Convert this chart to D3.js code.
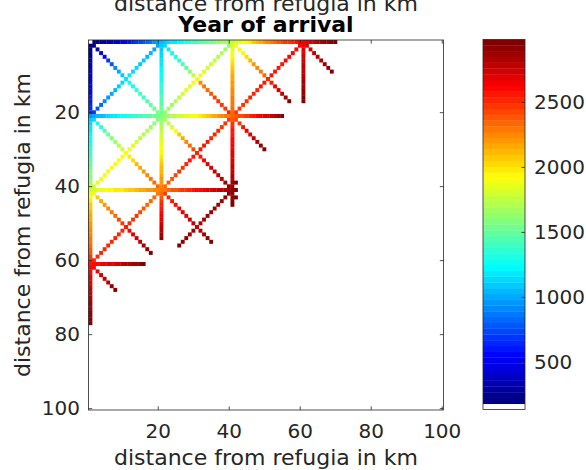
<!DOCTYPE html>
<html>
<head>
<meta charset="utf-8">
<script src="https://cdn.jsdelivr.net/npm/d3@7"></script>
<style>
  body { margin: 0; background: #fff; }
  svg { display: block; font-family: 'DejaVu Sans', sans-serif; }
</style>
</head>
<body>
<div id="chart"></div>
<script>
// grid and axis values
const gridSize = 100;
const xTicks = [20, 40, 60, 80, 100];
const yTicks = [20, 40, 60, 80, 100];
const colorTicks = [500, 1000, 1500, 2000, 2500];
const colorRange = [134, 2980];
const titleText = 'Year of arrival';
const axisLabel = 'distance from refugia in km';

// year of arrival along each corridor, one value per cell
const row1 = [140, 220, 260, 300, 330, 360, 400, 430, 470, 500, 540, 580, 640, 700, 740, 790, 830, 880, 940, 990,
  1050, 1090, 1130, 1160, 1200, 1240, 1270, 1310, 1340, 1380, 1410, 1450, 1480, 1520, 1550, 1590, 1620, 1660, 1690, 1730,
  1760, 1810, 1850, 1900, 1950, 2000, 2050, 2100, 2150, 2200, 2240, 2290, 2330, 2380, 2420, 2460, 2490, 2530, 2560, 2600,
  2640, 2670, 2710, 2740, 2780, 2820, 2850, 2890, 2920, 2960];
const col1 = [140, 220, 250, 280, 310, 340, 360, 390, 420, 450, 470, 490, 520, 540, 560, 580, 600, 630, 650, 700,
  950, 1100, 1130, 1160, 1190, 1220, 1260, 1290, 1320, 1350, 1380, 1420, 1450, 1490, 1520, 1560, 1600, 1640, 1670, 1710,
  1750, 1830, 1900, 1980, 2050, 2080, 2110, 2140, 2170, 2200, 2220, 2240, 2260, 2280, 2300, 2330, 2370, 2400, 2450, 2500,
  2550, 2580, 2620, 2650, 2680, 2710, 2740, 2770, 2790, 2820, 2840, 2860, 2880, 2910, 2930, 2950, 2970];
const row21 = [950, 990, 1030, 1060, 1100, 1130, 1160, 1190, 1220, 1250, 1280, 1310, 1340, 1370, 1400, 1430, 1460, 1490, 1520, 1550,
  1580, 1620, 1670, 1710, 1750, 1780, 1810, 1840, 1870, 1900, 1940, 1980, 2020, 2060, 2100, 2140, 2180, 2230, 2270, 2310,
  2350, 2380, 2410, 2440, 2470, 2510, 2550, 2590, 2630, 2670, 2710, 2760, 2810, 2860, 2910];
const col21 = [1050, 1080, 1100, 1130, 1150, 1170, 1190, 1210, 1230, 1250, 1280, 1310, 1340, 1370, 1400, 1430, 1460, 1490, 1520, 1550,
  1580, 1620, 1670, 1710, 1750, 1780, 1810, 1840, 1870, 1900, 1940, 1980, 2020, 2060, 2100, 2130, 2160, 2190, 2220, 2250,
  2280, 2340, 2390, 2450, 2500, 2550, 2600, 2650, 2700, 2750, 2790, 2830, 2860, 2900];
const row41 = [1750, 1790, 1830, 1860, 1900, 1920, 1940, 1960, 1980, 2000, 2030, 2060, 2090, 2120, 2150, 2170, 2190, 2220, 2240, 2260,
  2280, 2310, 2340, 2370, 2400, 2430, 2460, 2490, 2520, 2550, 2580, 2610, 2640, 2670, 2700, 2730, 2770, 2800, 2830, 2870,
  2900, 2950];
const col41 = [1760, 1810, 1860, 1900, 1950, 1990, 2030, 2070, 2110, 2150, 2170, 2190, 2210, 2230, 2250, 2270, 2280, 2300, 2320, 2330,
  2350, 2400, 2450, 2500, 2550, 2570, 2590, 2610, 2630, 2650, 2680, 2700, 2730, 2750, 2780, 2800, 2820, 2840, 2860, 2880,
  2900, 2920, 2930, 2950, 2960];
const row61 = [2550, 2580, 2600, 2630, 2650, 2680, 2700, 2730, 2750, 2780, 2810, 2840, 2870, 2890, 2920, 2950];
const col61 = [2640, 2660, 2680, 2700, 2720, 2740, 2760, 2780, 2800, 2820, 2840, 2860, 2880, 2900, 2920, 2940, 2960];

// diagonal corridors inside the 20 km blocks
const diagA1 = [250, 350, 450, 550, 670, 780, 900, 1000, 1100, 1200, 1250, 1290, 1340, 1380, 1420, 1460, 1500, 1530, 1560];
const diagA2 = [700, 780, 840, 900, 950, 1000, 1050, 1100, 1150, 1200, 1170, 1150, 1120, 1100, 1070, 1050, 1030, 1020, 1000];
const diagB1 = [1150, 1200, 1250, 1300, 1370, 1430, 1500, 1630, 1770, 1900, 2250, 2300, 2350, 2400, 2420, 2450, 2470, 2490, 2500];
const diagB2 = [1620, 1650, 1690, 1720, 1760, 1790, 1830, 1860, 1880, 1900, 1870, 1850, 1820, 1790, 1760, 1730, 1700, 1670, 1640];
const diagC1 = [1900, 1920, 1950, 2030, 2100, 2180, 2250, 2300, 2350, 2500, 2550, 2650, 2720, 2800, 2880, 2950];
const diagC2 = [2450, 2460, 2470, 2490, 2500, 2520, 2530, 2550, 2550, 2500, 2550, 2550, 2550, 2570, 2580, 2600, 2610, 2610, 2620];
const diagD1 = [2680, 2720, 2760, 2800, 2840, 2880, 2920, 2960];
const diagE1 = [1150, 1250, 1350, 1450, 1520, 1580, 1650, 1730, 1820, 1900, 1970, 2030, 2100, 2150, 2200, 2250, 2280, 2320, 2350];
const diagE2 = [1800, 1830, 1870, 1900, 1920, 1930, 1950, 1930, 1920, 1900, 1870, 1830, 1800, 1770, 1730, 1700, 1670, 1630, 1600];
const diagF1 = [1650, 1750, 1850, 1950, 2050, 2150, 2240, 2330, 2410, 2500, 2570, 2630, 2700, 2730, 2770, 2800, 2830, 2870, 2900];
const diagF2 = [2330, 2370, 2400, 2430, 2450, 2480, 2520, 2550, 2550, 2500, 2550, 2550, 2550, 2530, 2520, 2500, 2480, 2470, 2450];
const diagG1 = [2420, 2490, 2560, 2630, 2700, 2770, 2840, 2900, 2960];
const diagH1 = [1950, 2050, 2150, 2200, 2250, 2300, 2350, 2420, 2480, 2550, 2620, 2680, 2750, 2800, 2850, 2900, 2950];
const diagH2 = [2500, 2500, 2500, 2500, 2500, 2510, 2510, 2520, 2530, 2550, 2520, 2480, 2450, 2420, 2380, 2350, 2330, 2320, 2300];
const diagI1 = [2450, 2500, 2550, 2600, 2630, 2670, 2700, 2730, 2770, 2800, 2840, 2880, 2910, 2950];
const diagI2 = [2950, 2930, 2910, 2890, 2860, 2800, 2830, 2850, 2860, 2870, 2870, 2880, 2890, 2900, 2900];
const diagJ1 = [2600, 2660, 2720, 2780, 2840, 2900, 2950];
const stubCells = [[39, 42, 2950], [43, 42, 2950]];

// corridor table: values, start row, start column, row step, column step
const segments = [
  [diagA1, 2, 2, 1, 1], [diagA2, 20, 2, -1, 1],
  [diagB1, 2, 22, 1, 1], [diagB2, 20, 22, -1, 1],
  [diagC1, 2, 42, 1, 1], [diagC2, 20, 42, -1, 1],
  [diagD1, 2, 62, 1, 1],
  [diagE1, 22, 2, 1, 1], [diagE2, 40, 2, -1, 1],
  [diagF1, 22, 22, 1, 1], [diagF2, 40, 22, -1, 1],
  [diagG1, 22, 42, 1, 1],
  [diagH1, 42, 2, 1, 1], [diagH2, 60, 2, -1, 1],
  [diagI1, 42, 22, 1, 1], [diagI2, 56, 26, -1, 1],
  [diagJ1, 62, 2, 1, 1],
  [row1, 1, 1, 0, 1], [col1, 1, 1, 1, 0],
  [row21, 21, 1, 0, 1], [col21, 1, 21, 1, 0],
  [row41, 41, 1, 0, 1], [col41, 1, 41, 1, 0],
  [row61, 61, 1, 0, 1], [col61, 1, 61, 1, 0]
];

// flatten to cells
const cells = [];
segments.forEach(([vals, r0, c0, dr, dc]) => {
  vals.forEach((v, i) => cells.push({ row: r0 + i * dr, col: c0 + i * dc, value: v }));
});
stubCells.forEach(([row, col, value]) => cells.push({ row, col, value }));

// jet colormap with white as lowest entry (64 levels)
function jet(t) {
  const c = v => Math.max(0, Math.min(1, v));
  const r = c(Math.min(4 * t - 1.5, -4 * t + 4.5));
  const g = c(Math.min(4 * t - 0.5, -4 * t + 3.5));
  const b = c(Math.min(4 * t + 0.5, -4 * t + 2.5));
  return d3.rgb(r * 255, g * 255, b * 255).formatHex();
}
const palette = ['#ffffff'].concat(d3.range(63).map(i => jet(i / 62)));
const color = d3.scaleQuantize().domain(colorRange).range(palette);

const width = 586;
const height = 470;
const ink = '#262626';

const svg = d3.select('#chart')
  .append('svg')
  .attr('width', width)
  .attr('height', height);

const x = d3.scaleLinear().domain([0.5, gridSize + 0.5]).range([88.5, 443.5]);
const y = d3.scaleLinear().domain([0.5, gridSize + 0.5]).range([40, 410]);

const cw = x(1.5) - x(0.5);
const ch = y(1.5) - y(0.5);

// cells
svg.append('g')
  .selectAll('rect')
  .data(cells)
  .enter()
  .append('rect')
  .attr('x', d => x(d.col - 0.5))
  .attr('y', d => y(d.row - 0.5))
  .attr('width', cw + 0.3)
  .attr('height', ch + 0.3)
  .attr('fill', d => color(d.value));

// axes (ticks pointing inward on all four sides)
function styleAxis(g, size) {
  g.select('.domain').remove();
  g.selectAll('.tick line').attr('stroke', ink).attr('stroke-width', 0.8);
  g.selectAll('.tick text')
    .attr('fill', ink)
    .style('font-family', "'DejaVu Sans', sans-serif")
    .style('font-size', size + 'px');
}

svg.append('g')
  .attr('transform', `translate(0, ${y.range()[1]})`)
  .call(d3.axisBottom(x).tickValues(xTicks).tickSize(-3.7).tickPadding(13.5))
  .call(g => styleAxis(g, 20));

svg.append('g')
  .attr('transform', `translate(0, ${y.range()[0]})`)
  .call(d3.axisTop(x).tickValues(xTicks).tickSize(-3.7).tickFormat(''))
  .call(g => styleAxis(g, 20));

svg.append('g')
  .attr('transform', `translate(${x.range()[0]}, 0)`)
  .call(d3.axisLeft(y).tickValues(yTicks).tickSize(-3.7).tickPadding(8.5))
  .call(g => styleAxis(g, 20));

svg.append('g')
  .attr('transform', `translate(${x.range()[1]}, 0)`)
  .call(d3.axisRight(y).tickValues(yTicks).tickSize(-3.7).tickFormat(''))
  .call(g => styleAxis(g, 20));

svg.append('rect')
  .attr('x', x.range()[0])
  .attr('y', y.range()[0])
  .attr('width', x.range()[1] - x.range()[0])
  .attr('height', y.range()[1] - y.range()[0])
  .attr('fill', 'none')
  .attr('stroke', ink)
  .attr('stroke-width', 0.8);

// labels
svg.append('text')
  .attr('x', 266)
  .attr('y', 465)
  .attr('text-anchor', 'middle')
  .attr('fill', ink)
  .style('font-size', '22px')
  .text(axisLabel);

svg.append('text')
  .attr('x', 266)
  .attr('y', 11)
  .attr('text-anchor', 'middle')
  .attr('fill', ink)
  .style('font-size', '22px')
  .text(axisLabel);

svg.append('text')
  .attr('transform', 'translate(30, 225) rotate(-90)')
  .attr('text-anchor', 'middle')
  .attr('fill', ink)
  .style('font-size', '22px')
  .text(axisLabel);

svg.append('text')
  .attr('x', 266)
  .attr('y', 32)
  .attr('text-anchor', 'middle')
  .attr('fill', '#000')
  .style('font-size', '22px')
  .style('font-weight', 'bold')
  .text(titleText);

// colorbar
const cbX = 483;
const cbW = 42;
const cy = d3.scaleLinear().domain(colorRange).range([409.5, 39.5]);
const step = (colorRange[1] - colorRange[0]) / palette.length;

svg.append('g')
  .selectAll('rect')
  .data(palette)
  .enter()
  .append('rect')
  .attr('x', cbX)
  .attr('y', (d, i) => cy(colorRange[0] + (i + 1) * step))
  .attr('width', cbW)
  .attr('height', cy(colorRange[0]) - cy(colorRange[0] + step) + 0.3)
  .attr('fill', d => d);

svg.append('g')
  .attr('transform', `translate(${cbX + cbW}, 0)`)
  .call(d3.axisRight(cy).tickValues(colorTicks).tickSize(-3.7).tickPadding(9).tickFormat(d3.format('d')))
  .call(g => styleAxis(g, 20));

svg.append('rect')
  .attr('x', cbX)
  .attr('y', cy.range()[1])
  .attr('width', cbW)
  .attr('height', cy.range()[0] - cy.range()[1])
  .attr('fill', 'none')
  .attr('stroke', ink)
  .attr('stroke-width', 0.8);
</script>
</body>
</html>
